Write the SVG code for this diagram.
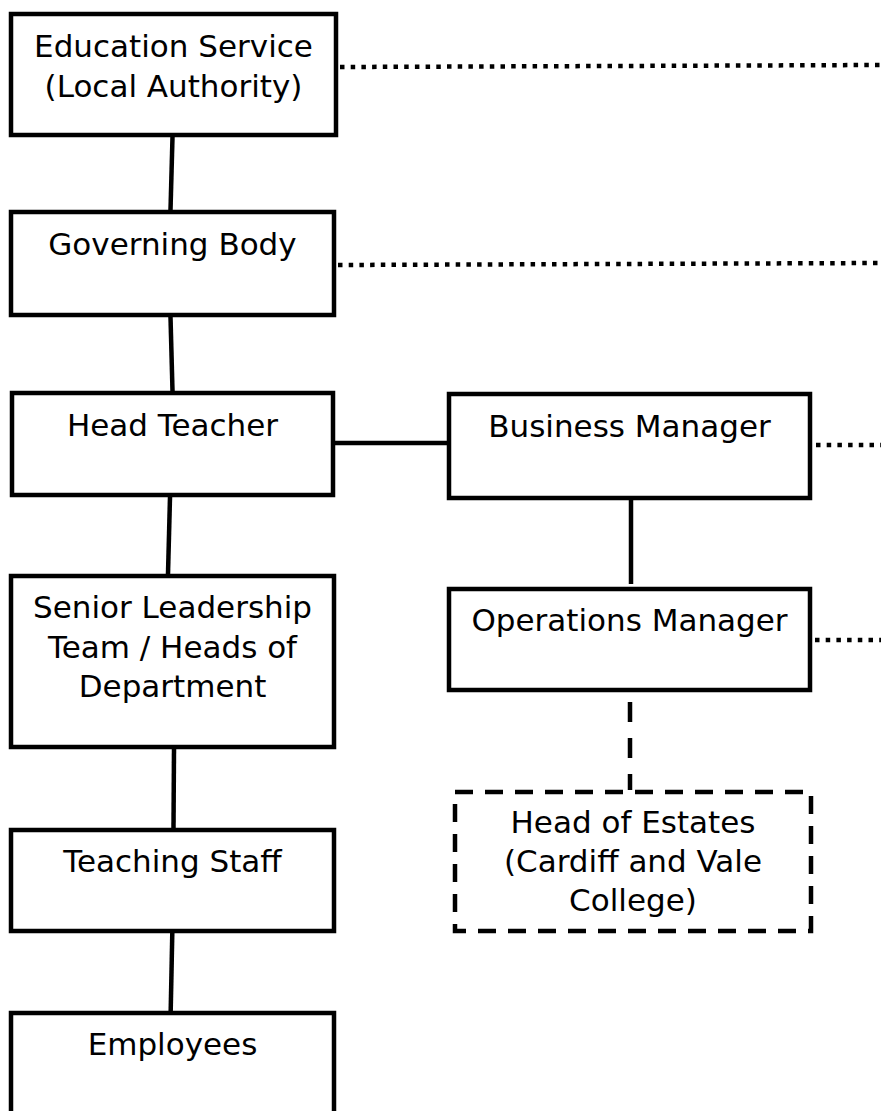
<svg xmlns="http://www.w3.org/2000/svg" width="881" height="1111" viewBox="0 0 881 1111">
<style>
.box{fill:#fff;stroke:#000;stroke-width:4.5}
.dbox{fill:#fff;stroke:#000;stroke-width:4.5;stroke-dasharray:18 12}
.t{font-family:"DejaVu Sans",sans-serif;font-size:31px;fill:#000;text-anchor:middle}
.solid{stroke:#000;stroke-width:4.5;fill:none}
.dot{stroke:#000;stroke-width:4.5;fill:none;stroke-dasharray:4.5 6.2}
.dash{stroke:#000;stroke-width:4.5;fill:none;stroke-dasharray:20 16}
</style>
<rect width="881" height="1111" fill="#fff"/>
<g id="connectors">
<line class="solid" x1="172.5" y1="137" x2="170.5" y2="210"/>
<line class="solid" x1="170.5" y1="317" x2="172.5" y2="391"/>
<line class="solid" x1="170" y1="497" x2="168" y2="574"/>
<line class="solid" x1="174" y1="749" x2="173.5" y2="828"/>
<line class="solid" x1="172.3" y1="933" x2="170.7" y2="1011"/>
<line class="solid" x1="335" y1="443" x2="447" y2="443"/>
<line class="solid" x1="631" y1="500" x2="631" y2="584"/>
<line class="dash" x1="630" y1="702" x2="630" y2="790"/>
<line class="dot" x1="340" y1="67" x2="881" y2="65"/>
<line class="dot" x1="338" y1="265" x2="881" y2="263"/>
<line class="dot" x1="816" y1="445" x2="881" y2="445"/>
<line class="dot" x1="815" y1="640" x2="881" y2="640"/>
</g>
<g id="education-service">
<rect class="box" x="11" y="14" width="325" height="121"/>
<text class="t" x="173.5" y="57">Education Service</text>
<text class="t" x="173.5" y="97">(Local Authority)</text>
</g>
<g id="governing-body">
<rect class="box" x="11" y="212" width="323" height="103"/>
<text class="t" x="172.5" y="255">Governing Body</text>
</g>
<g id="head-teacher">
<rect class="box" x="12" y="393" width="321" height="102"/>
<text class="t" x="172.5" y="436">Head Teacher</text>
</g>
<g id="senior-leadership">
<rect class="box" x="11" y="576" width="323" height="171"/>
<text class="t" x="172.5" y="618">Senior Leadership</text>
<text class="t" x="172.5" y="657.5">Team / Heads of</text>
<text class="t" x="172.5" y="697">Department</text>
</g>
<g id="teaching-staff">
<rect class="box" x="11" y="830" width="323" height="101"/>
<text class="t" x="172.5" y="872">Teaching Staff</text>
</g>
<g id="employees">
<rect class="box" x="11" y="1013" width="323" height="120"/>
<text class="t" x="172.5" y="1055">Employees</text>
</g>
<g id="business-manager">
<rect class="box" x="449" y="394" width="361" height="104"/>
<text class="t" x="629.5" y="437">Business Manager</text>
</g>
<g id="operations-manager">
<rect class="box" x="449" y="589" width="361" height="101"/>
<text class="t" x="629.5" y="631">Operations Manager</text>
</g>
<g id="head-of-estates">
<rect class="dbox" x="455" y="792" width="356" height="139"/>
<text class="t" x="633" y="833">Head of Estates</text>
<text class="t" x="633" y="872">(Cardiff and Vale</text>
<text class="t" x="633" y="911">College)</text>
</g>
</svg>
